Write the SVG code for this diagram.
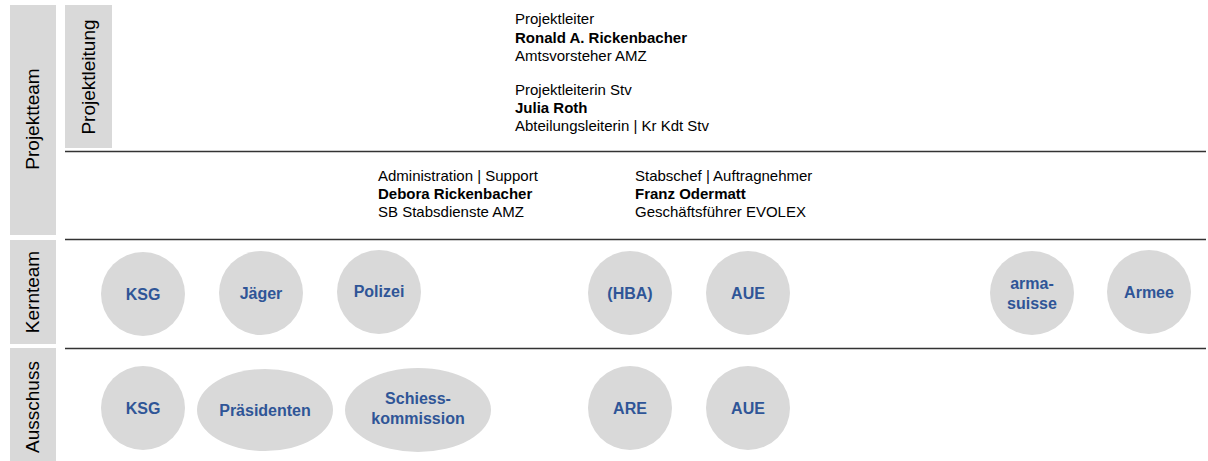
<svg xmlns="http://www.w3.org/2000/svg" width="1208" height="461" viewBox="0 0 1208 461">
<style>
.band{fill:#d9d9d9}
.lbl{font-family:"Liberation Sans",Arial,sans-serif;font-size:19px;fill:#000;text-anchor:middle}
.t{font-family:"Liberation Sans",Arial,sans-serif;font-size:15px;fill:#000}
.b{font-weight:bold}
.node{fill:#d9d9d9}
.nt{font-family:"Liberation Sans",Arial,sans-serif;font-size:16px;font-weight:bold;fill:#2f5597;text-anchor:middle}
.sep{stroke:#333;stroke-width:1.5}
</style>
<rect width="1208" height="461" fill="#fff"/>
<g id="labels">
<rect class="band" x="10" y="5" width="46" height="230"/>
<text class="lbl" transform="translate(39,119) rotate(-90)">Projektteam</text>
<rect class="band" x="65" y="5" width="47" height="143"/>
<text class="lbl" transform="translate(95,77) rotate(-90)">Projektleitung</text>
<rect class="band" x="10" y="240" width="46" height="104"/>
<text class="lbl" transform="translate(39,292) rotate(-90)">Kernteam</text>
<rect class="band" x="10" y="348" width="46" height="113"/>
<text class="lbl" transform="translate(39,407) rotate(-90)">Ausschuss</text>
</g>
<g id="separators">
<line class="sep" x1="65" y1="151.5" x2="1206" y2="151.5"/>
<line class="sep" x1="65" y1="239.5" x2="1206" y2="239.5"/>
<line class="sep" x1="65" y1="348.5" x2="1206" y2="348.5"/>
</g>
<g id="projektleitung">
<text class="t" x="515" y="24">Projektleiter</text>
<text class="t b" x="515" y="43">Ronald A. Rickenbacher</text>
<text class="t" x="515" y="61">Amtsvorsteher AMZ</text>
<text class="t" x="515" y="95">Projektleiterin Stv</text>
<text class="t b" x="515" y="113">Julia Roth</text>
<text class="t" x="515" y="131">Abteilungsleiterin | Kr Kdt Stv</text>
</g>
<g id="admin">
<text class="t" x="378" y="181">Administration | Support</text>
<text class="t b" x="378" y="199">Debora Rickenbacher</text>
<text class="t" x="378" y="217">SB Stabsdienste AMZ</text>
</g>
<g id="stabschef">
<text class="t" x="635" y="181">Stabschef | Auftragnehmer</text>
<text class="t b" x="635" y="199">Franz Odermatt</text>
<text class="t" x="635" y="217">Geschäftsführer EVOLEX</text>
</g>
<g id="k-ksg"><circle class="node" cx="143" cy="294" r="42"/><text class="nt" x="143" y="300">KSG</text></g>
<g id="k-jaeger"><circle class="node" cx="261" cy="293" r="42"/><text class="nt" x="261" y="299">Jäger</text></g>
<g id="k-polizei"><circle class="node" cx="379" cy="292" r="42"/><text class="nt" x="379" y="297">Polizei</text></g>
<g id="k-hba"><circle class="node" cx="630" cy="293" r="42"/><text class="nt" x="630" y="299">(HBA)</text></g>
<g id="k-aue"><circle class="node" cx="748" cy="293" r="42"/><text class="nt" x="748" y="299">AUE</text></g>
<g id="k-armasuisse"><circle class="node" cx="1032" cy="293" r="42"/><text class="nt" x="1032" y="289">arma-</text><text class="nt" x="1032" y="309">suisse</text></g>
<g id="k-armee"><circle class="node" cx="1149" cy="292" r="42"/><text class="nt" x="1149" y="298">Armee</text></g>
<g id="a-ksg"><circle class="node" cx="143" cy="408" r="42"/><text class="nt" x="143" y="414">KSG</text></g>
<g id="a-praesidenten"><ellipse class="node" cx="265" cy="410" rx="68" ry="41"/><text class="nt" x="265" y="416">Präsidenten</text></g>
<g id="a-schiesskommission"><ellipse class="node" cx="418" cy="410" rx="73" ry="42"/><text class="nt" x="418" y="404">Schiess-</text><text class="nt" x="418" y="424">kommission</text></g>
<g id="a-are"><circle class="node" cx="630" cy="408" r="42"/><text class="nt" x="630" y="414">ARE</text></g>
<g id="a-aue"><circle class="node" cx="748" cy="408" r="42"/><text class="nt" x="748" y="414">AUE</text></g>
</svg>
